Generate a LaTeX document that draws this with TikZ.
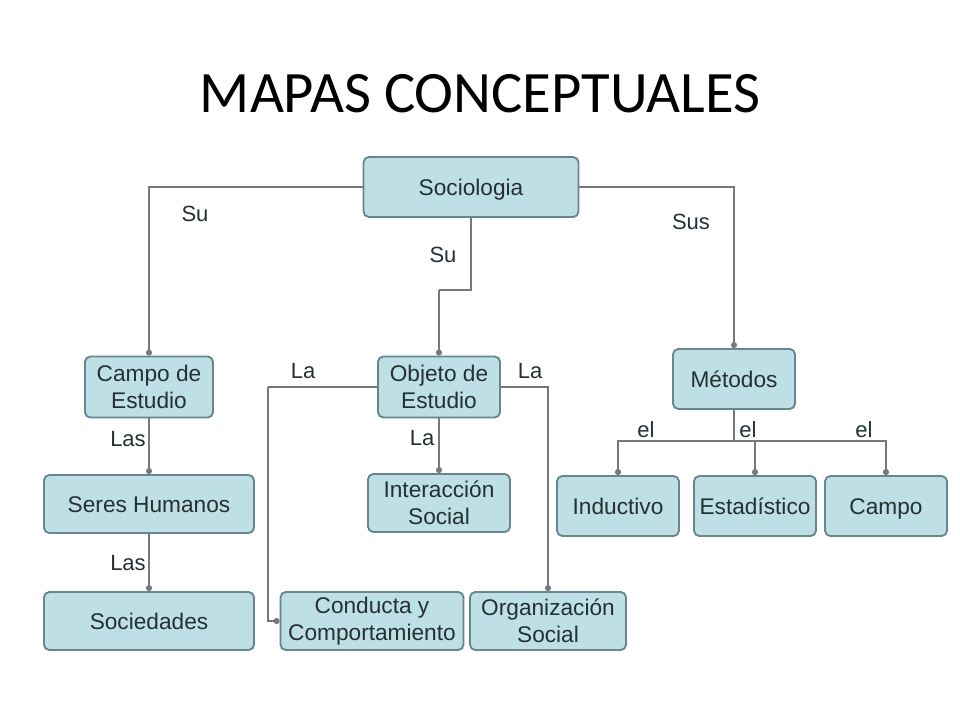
\documentclass[tikz,border=0pt]{standalone}
\usepackage{fontspec}
\setmainfont{Liberation Sans}
\newfontfamily\titlefont{Carlito}
\usetikzlibrary{arrows.meta}
\definecolor{boxfill}{RGB}{189,223,229}
\definecolor{boxdraw}{RGB}{104,134,140}
\definecolor{boxtext}{RGB}{36,48,52}
\definecolor{linegray}{RGB}{120,120,120}
\tikzset{
  bx/.style 2 args={draw=boxdraw, fill=boxfill, line width=1.4pt, rounded corners=4pt,
    minimum width=#1*0.75pt, minimum height=#2*0.75pt, inner sep=0pt, align=center,
    text=boxtext, font=\fontsize{17}{20}\selectfont},
  one/.style={text height=12.2pt, text depth=0pt},
  conn/.style={draw=linegray, line width=1.4pt, -{Circle[length=4.5pt]}},
  plain/.style={draw=linegray, line width=1.4pt},
  lbl/.style={text=boxtext, font=\fontsize{16.5}{19}\selectfont, inner sep=0pt}
}
\begin{document}
\begin{tikzpicture}[x=0.75pt,y=-0.75pt]
\useasboundingbox (0,0) rectangle (960,720);
\fill[white] (0,0) rectangle (960,720);
% title
\node[anchor=base, inner sep=0pt, font=\titlefont\fontsize{44}{50}\selectfont] (title) at (480,113) {MAPAS CONCEPTUALES};
% nodes
\node[bx={215}{60}, one] (soc) at (471,187) {Sociologia};
\node[bx={128}{61}] (campo) at (149,387) {Campo de\\Estudio};
\node[bx={210}{58}, one] (seres) at (149,504) {Seres Humanos};
\node[bx={210}{58}, one] (socied) at (149,621) {Sociedades};
\node[bx={122}{61}] (objeto) at (439,387) {Objeto de\\Estudio};
\node[bx={142}{58}] (inter) at (439,503) {Interacción\\Social};
\node[bx={183}{58}] (conducta) at (372,621) {Conducta y\\Comportamiento};
\node[bx={156}{58}] (organiz) at (548,621) {Organización\\Social};
\node[bx={122}{60}, one] (metodos) at (734,379) {Métodos};
\node[bx={122}{60}, one] (induct) at (618,506) {Inductivo};
\node[bx={122}{60}, one] (estad) at (755,506) {Estadístico};
\node[bx={122}{60}, one] (campo2) at (886,506) {Campo};
% connectors
\coordinate (k1) at (439,290);
\coordinate (k2) at (268,387);
\coordinate (k3) at (734,441);
\draw[conn] (soc.west) -| (campo.north);
\draw[conn] (soc.east) -| (metodos.north);
\draw[plain] (soc.south) |- (k1);
\draw[conn] (k1) -- (objeto.north);
\draw[conn] (campo.south) -- (seres.north);
\draw[conn] (seres.south) -- (socied.north);
\draw[plain] (objeto.west) -- (k2);
\draw[conn] (k2) |- (conducta.west);
\draw[conn] (objeto.east) -| (organiz.north);
\draw[conn] (objeto.south) -- (inter.north);
\draw[plain] (metodos.south) -- (k3);
\draw[conn] (k3) -| (induct.north);
\draw[conn] (k3) -| (campo2.north);
\draw[conn] (estad.north |- k3) -- (estad.north);
% labels
\node[lbl] (l1) at (195,214) {Su};
\node[lbl] (l2) at (443,255) {Su};
\node[lbl] (l3) at (691,222) {Sus};
\node[lbl] (l4) at (128,439) {Las};
\node[lbl] (l5) at (128,563) {Las};
\node[lbl] (l6) at (303,371) {La};
\node[lbl] (l7) at (530,371) {La};
\node[lbl] (l8) at (422,438) {La};
\node[lbl] (l9) at (646,430) {el};
\node[lbl] (l10) at (748,430) {el};
\node[lbl] (l11) at (864,430) {el};
\end{tikzpicture}
\end{document}
